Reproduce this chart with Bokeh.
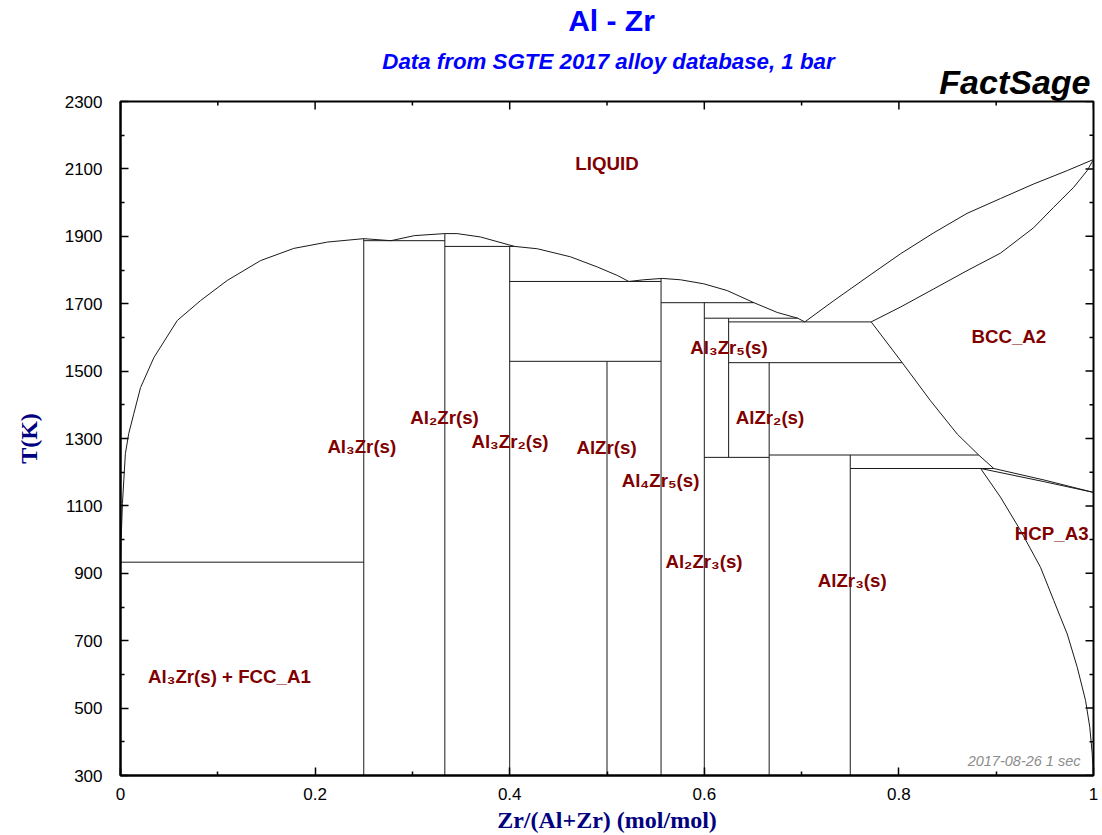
import math
from bokeh.plotting import figure
from bokeh.layouts import column
from bokeh.models import FixedTicker, Range1d, Label, ColumnDataSource
from bokeh.core.properties import value
from bokeh.embed import file_html
from bokeh.resources import INLINE

# ---------------- data ----------------
x_ticks = [0, 0.2, 0.4, 0.6, 0.8, 1]
x_tick_labels = ["0", "0.2", "0.4", "0.6", "0.8", "1"]
x_minor = [0.1, 0.3, 0.5, 0.7, 0.9]
y_ticks = [300, 500, 700, 900, 1100, 1300, 1500, 1700, 1900, 2100, 2300]
y_tick_labels = ["300", "500", "700", "900", "1100", "1300", "1500", "1700", "1900", "2100", "2300"]
y_minor = [400, 600, 800, 1000, 1200, 1400, 1600, 1800, 2000, 2200]

# stoichiometric compounds (vertical lines)
compound_names = ["Al3Zr", "Al2Zr", "Al3Zr2", "AlZr", "Al4Zr5", "Al2Zr3", "Al3Zr5", "AlZr2", "AlZr3"]
compound_x = [0.25, 1 / 3, 0.4, 0.5, 5 / 9, 0.6, 0.625, 2 / 3, 0.75]
compound_t_low = [300, 300, 300, 300, 300, 300, 1244, 300, 300]
compound_t_high = [1893, 1908, 1870, 1529, 1775, 1703, 1657, 1525, 1251]

# invariant reactions (horizontal lines)
invariant_x_start = [0.0, 0.25, 1 / 3, 0.4, 0.4, 5 / 9, 0.6, 0.625, 0.625, 0.6, 2 / 3, 0.75]
invariant_x_end = [0.25, 1 / 3, 0.405, 5 / 9, 5 / 9, 0.651, 0.696, 0.7715, 0.8034, 2 / 3, 0.882, 0.8975]
invariant_t = [933, 1887, 1870, 1766, 1529, 1703, 1657, 1646, 1525, 1244, 1251, 1211]

# liquidus, Al side up to the L -> Al3Zr5 + BCC eutectic
liquidus_x = [0.0, 0.0005, 0.002, 0.005, 0.0085, 0.0137, 0.0206, 0.0343, 0.0583, 0.0822,
              0.1097, 0.144, 0.178, 0.213, 0.25, 0.278, 0.302, 0.333, 0.346, 0.370,
              0.405, 0.4285, 0.4626, 0.490, 0.5105, 0.5224, 0.5378, 0.5567, 0.5755,
              0.5995, 0.6235, 0.651, 0.675, 0.696, 0.7033]
liquidus_t = [933, 990, 1107, 1255, 1315, 1374, 1451, 1540, 1650, 1709,
              1769, 1828, 1864, 1883, 1893, 1887, 1902, 1908, 1908, 1898,
              1870, 1863, 1839, 1809, 1784, 1766, 1771, 1775, 1771,
              1759, 1739, 1703, 1674, 1657, 1646]

# BCC liquidus and solidus (Zr side)
bcc_liquidus_x = [0.7033, 0.7331, 0.7674, 0.8016, 0.8356, 0.870, 0.9044, 0.9383, 0.973, 1.0]
bcc_liquidus_t = [1646, 1709, 1779, 1848, 1910, 1968, 2012, 2055, 2095, 2128]
bcc_solidus_x = [0.7715, 0.8016, 0.8359, 0.870, 0.9044, 0.9383, 0.959, 0.9798, 0.9935, 1.0]
bcc_solidus_t = [1646, 1690, 1744, 1798, 1850, 1925, 1986, 2046, 2095, 2128]

# BCC solvus
bcc_solvus_x = [0.7715, 0.8034, 0.8325, 0.860, 0.882, 0.8975]
bcc_solvus_t = [1646, 1525, 1412, 1313, 1251, 1211]

# BCC / HCP two-phase band
bcc_transus_x = [0.8975, 0.949, 1.0]
bcc_transus_t = [1211, 1177, 1140]
hcp_transus_x = [0.884, 0.949, 1.0]
hcp_transus_t = [1211, 1172, 1140]

# HCP solvus
hcp_solvus_x = [0.884, 0.9044, 0.925, 0.9455, 0.9592, 0.966, 0.973, 0.9833, 0.9918, 0.9962, 0.9987, 0.9997]
hcp_solvus_t = [1211, 1126, 1027, 918, 819, 770, 720, 621, 523, 443, 364, 305]

# phase field labels
phase_labels = ["LIQUID", "BCC_A2", "HCP_A3", "Al\u2083Zr(s) + FCC_A1", "Al\u2083Zr(s)", "Al\u2082Zr(s)",
                "Al\u2083Zr\u2082(s)", "AlZr(s)", "Al\u2084Zr\u2085(s)", "Al\u2082Zr\u2083(s)",
                "Al\u2083Zr\u2085(s)", "AlZr\u2082(s)", "AlZr\u2083(s)"]
phase_label_x = [0.5, 0.913, 0.957, 0.112, 0.248, 0.333, 0.4003, 0.4995, 0.555, 0.5997, 0.6254, 0.6675, 0.752]
phase_label_t = [2115, 1603, 1018, 594, 1276, 1362, 1291, 1273, 1175, 935, 1570, 1362, 879]

title_text = "Al - Zr"
subtitle_text = "Data from SGTE 2017 alloy database, 1 bar"
brand_text = "FactSage"
stamp_text = "2017-08-26  1 sec"
x_title = "Zr/(Al+Zr) (mol/mol)"
y_title = "T(K)"

# ---------------- layout sizes (pixels) ----------------
W = 1102
H_TITLE = 101          # title strip = everything above the diagram frame
OVER = 16              # the diagram canvas overlaps the title strip by this much
H_MAIN = 835 - H_TITLE + OVER
LEFT, RIGHT, BOTTOM = 120, 9, 60

# ---------------- title strip ----------------
# its frame is aligned with the diagram frame; data units = page pixels
tf = figure(width=W, height=H_TITLE, x_range=Range1d(LEFT, W - RIGHT), y_range=Range1d(H_TITLE, 0),
            output_backend="svg", toolbar_location=None, min_border=0,
            x_axis_type=None, y_axis_type=None)
tf.outline_line_color = None
tf.grid.visible = False
tf.add_layout(Label(x=611, y=20, text=title_text, text_align="center", text_baseline="middle",
                    text_font="Liberation Sans", text_font_style="bold", text_font_size="30px",
                    text_color="#0000FF"))
tf.add_layout(Label(x=608, y=61, text=subtitle_text, text_align="center", text_baseline="middle",
                    text_font="Liberation Sans", text_font_style="bold italic", text_font_size="22.3px",
                    text_color="#0000FF"))
tf.add_layout(Label(x=1090, y=81, text=brand_text, text_align="right", text_baseline="middle",
                    text_font="Liberation Sans", text_font_style="bold italic", text_font_size="34px",
                    text_color="black"))

# ---------------- main diagram ----------------
p = figure(width=W, height=H_MAIN, x_range=Range1d(0, 1), y_range=Range1d(300, 2300),
           output_backend="svg", toolbar_location=None, title=None,
           min_border_left=LEFT, min_border_right=RIGHT, min_border_top=OVER, min_border_bottom=BOTTOM)
p.margin = (-OVER, 0, 0, 0)
p.border_fill_color = None
p.background_fill_color = "white"
p.outline_line_color = "black"
p.outline_line_width = 2
p.grid.visible = False

p.xaxis.ticker = FixedTicker(ticks=x_ticks, minor_ticks=x_minor)
p.yaxis.ticker = FixedTicker(ticks=y_ticks, minor_ticks=y_minor)
p.xaxis.major_label_overrides = {float(k): v for k, v in zip(x_ticks, x_tick_labels)}
p.yaxis.major_label_overrides = {float(k): v for k, v in zip(y_ticks, y_tick_labels)}
for ax in (p.xaxis[0], p.yaxis[0]):
    ax.axis_line_width = 2
    ax.axis_line_color = "black"
    ax.major_tick_in = 8
    ax.major_tick_out = 0
    ax.minor_tick_in = 4
    ax.minor_tick_out = 0
    ax.major_tick_line_width = 1.5
    ax.minor_tick_line_width = 1.5
    ax.major_label_text_font = "Liberation Sans"
    ax.major_label_text_font_size = "17px"
    ax.major_label_text_color = "black"
    ax.axis_label_text_font = "Liberation Serif"
    ax.axis_label_text_font_style = "bold"
    ax.axis_label_text_font_size = "24px"
    ax.axis_label_text_color = "#000080"
p.xaxis.major_label_standoff = 12
p.yaxis.major_label_standoff = 18
p.xaxis.axis_label = x_title
p.yaxis.axis_label = y_title
p.xaxis.axis_label_standoff = 4
p.yaxis.axis_label_standoff = 20

# inward ticks on the top and right edges (half of each dash is clipped by the frame)
y_top = p.y_range.end
x_right = p.x_range.end
p.scatter(x=x_ticks, y=[y_top] * len(x_ticks), marker="dash", size=16, angle=math.pi / 2,
          line_color="black", line_width=1.5)
p.scatter(x=x_minor, y=[y_top] * len(x_minor), marker="dash", size=8, angle=math.pi / 2,
          line_color="black", line_width=1.5)
p.scatter(x=[x_right] * len(y_ticks), y=y_ticks, marker="dash", size=16,
          line_color="black", line_width=1.5)
p.scatter(x=[x_right] * len(y_minor), y=y_minor, marker="dash", size=8,
          line_color="black", line_width=1.5)

line_col = "#1a1a1a"

csrc = ColumnDataSource(dict(x=compound_x, y0=compound_t_low, y1=compound_t_high, name=compound_names))
p.segment(x0="x", y0="y0", x1="x", y1="y1", source=csrc, line_color=line_col, line_width=1)

isrc = ColumnDataSource(dict(x0=invariant_x_start, x1=invariant_x_end, t=invariant_t))
p.segment(x0="x0", y0="t", x1="x1", y1="t", source=isrc, line_color=line_col, line_width=1)

curves_x = [liquidus_x, bcc_liquidus_x, bcc_solidus_x, bcc_solvus_x, bcc_transus_x, hcp_transus_x, hcp_solvus_x]
curves_t = [liquidus_t, bcc_liquidus_t, bcc_solidus_t, bcc_solvus_t, bcc_transus_t, hcp_transus_t, hcp_solvus_t]
p.multi_line(xs=curves_x, ys=curves_t, line_color=line_col, line_width=1)

lsrc = ColumnDataSource(dict(x=phase_label_x, y=phase_label_t, text=phase_labels))
p.text(x="x", y="y", text="text", source=lsrc, text_align="center", text_baseline="middle",
       text_font=value("Liberation Sans"), text_font_style="bold", text_font_size="18.7px",
       text_color="#800000")

p.add_layout(Label(x=0.9908, y=344.5, text=stamp_text, text_align="right",
                   text_baseline="middle", text_font="Liberation Sans", text_font_style="italic",
                   text_font_size="14.5px", text_color="#8c8c8c"))

layout = column(tf, p, spacing=0)
open("out.html", "w").write(file_html(layout, INLINE))
